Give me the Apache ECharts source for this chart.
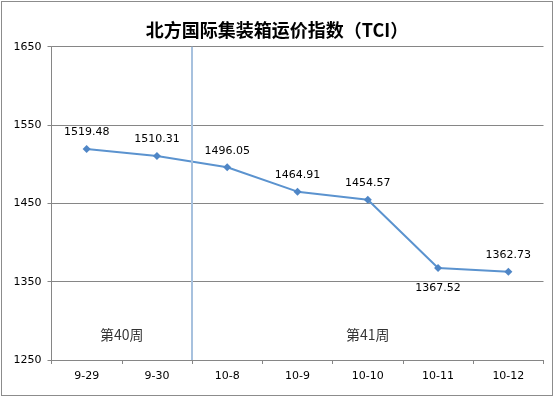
<!DOCTYPE html>
<html>
<head>
<meta charset="utf-8">
<script src="https://cdn.jsdelivr.net/npm/echarts@6/dist/echarts.min.js"></script>
<style>
  html, body { margin: 0; padding: 0; background: #fff; }
  #chart { width: 554px; height: 397px; }
  #frame { position: absolute; left: 1px; top: 1px; width: 550px; height: 393px; border: 1px solid #8c8c8c; pointer-events: none; }
</style>
</head>
<body>
<div id="chart"></div>
<div id="frame"></div>
<script>
// 北方国际集装箱运价指数 数据
const categories = ["9-29", "9-30", "10-8", "10-9", "10-10", "10-11", "10-12"];
const tciValues = [1519.48, 1510.31, 1496.05, 1464.91, 1454.57, 1367.52, 1362.73];
const labelBelow = [false, false, false, false, false, true, false];
const weekNames = ["第40周", "第41周"];
const weekCenters = [1, 4.5]; // 在 0..7 的位置
const weekSplit = 2; // 第40周 / 第41周 分界
const yTicks = [1250, 1350, 1450, 1550, 1650];

const chart = echarts.init(document.getElementById("chart"));
const font = "DejaVu Sans";

const option = {
  animation: false,
  title: {
    text: "北方国际集装箱运价指数（TCI）",
    left: "center",
    top: 16,
    textStyle: { fontFamily: "Noto Sans CJK SC", fontSize: 18, fontWeight: "bold", color: "#000" },
  },
  grid: { left: 51.5, right: 10.5, top: 46.7, bottom: 37 },
  xAxis: [
    {
      type: "category",
      data: categories,
      boundaryGap: true,
      axisLine: { lineStyle: { color: "#868686" } },
      axisTick: { show: true, length: 4, lineStyle: { color: "#868686" } },
      axisLabel: { fontFamily: font, fontSize: 11, color: "#000", margin: 11 },
    },
    { type: "value", min: 0, max: 7, show: false },
  ],
  yAxis: {
    type: "value",
    min: yTicks[0],
    max: yTicks[yTicks.length - 1],
    interval: 100,
    axisLine: { show: true, lineStyle: { color: "#868686" } },
    axisTick: { show: true, length: 4, lineStyle: { color: "#868686" } },
    axisLabel: { fontFamily: font, fontSize: 11, color: "#000", margin: 10, formatter: (v) => String(v) },
    splitLine: { lineStyle: { color: "#868686" } },
  },
  series: [
    {
      type: "line",
      data: tciValues.map((v, i) => ({
        value: v,
        label: { position: labelBelow[i] ? "bottom" : "top", distance: labelBelow[i] ? 11 : 7 },
      })),
      symbol: "diamond",
      symbolSize: 8,
      lineStyle: { color: "#5b93cf", width: 2 },
      itemStyle: { color: "#4f86c6" },
      label: { show: true, fontFamily: font, fontSize: 11, color: "#000" },
      z: 3,
    },
    {
      type: "scatter",
      xAxisIndex: 1,
      symbolSize: 0,
      data: weekCenters.map((x, i) => ({ value: [x, 1282], name: weekNames[i] })),
      label: {
        show: true,
        position: "inside",
        formatter: (p) => p.name,
        fontFamily: "Noto Sans CJK SC",
        fontSize: 14,
        color: "#000",
      },
      markLine: {
        silent: true,
        symbol: "none",
        label: { show: false },
        lineStyle: { color: "#a7c1de", width: 2, type: "solid" },
        data: [{ xAxis: weekSplit }],
      },
      z: 2,
    },
  ],
};
chart.setOption(option);
</script>
</body>
</html>
